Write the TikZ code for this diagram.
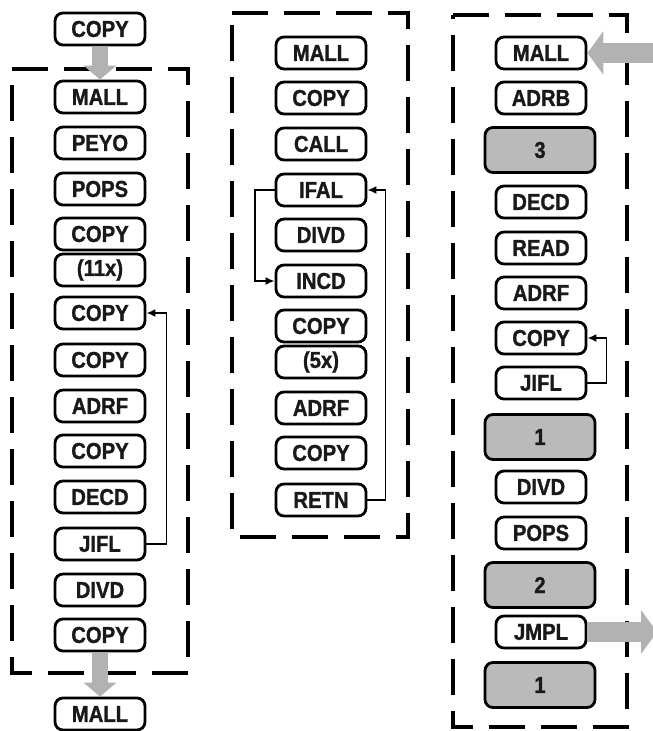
\documentclass[tikz,border=0pt]{standalone}
\usepackage{fontspec}
\setmainfont{Liberation Sans}
\newfontfamily\opfont[FakeStretch=0.88,FakeBold=1.2]{Liberation Sans Bold}
\usetikzlibrary{arrows.meta}
\begin{document}
\begin{tikzpicture}[x=1pt,y=-1pt,
  op/.style={draw=black, line width=2.8pt, rounded corners=8pt, minimum width=90pt, minimum height=32pt, inner sep=0pt, font=\opfont\fontsize{23}{26}\selectfont, fill=white, text=black!90},
  num/.style={op, minimum width=110pt, minimum height=45pt, fill=black!27},
  frame/.style={line width=4pt, dash pattern=on 36pt off 16pt, line cap=butt},
  fb/.style={line width=1.8pt, -{Latex[length=9pt,width=8pt]}},
  bigdown/.style={draw=black!30, line width=16pt, -{Triangle[width=32pt,length=14pt]}},
  bigside/.style={draw=black!30, line width=20pt, -{Triangle[width=43pt,length=16pt]}}
]
\useasboundingbox (0,0) rectangle (653,731);

% frames
\draw[frame] (12,69) -- (188,69) -- (188,673) -- (12,673) -- cycle;
\draw[frame] (232,13) -- (408,13) -- (408,537) -- (232,537) -- cycle;
\draw[frame] (453,15) -- (627,15) -- (627,727) -- (453,727) -- cycle;

% left column
\node[op] (L0) at (100,29) {COPY};
\node[op] (L1) at (100,97) {MALL};
\node[op] (L2) at (100,143) {PEYO};
\node[op] (L3) at (100,189) {POPS};
\node[op] (L4a) at (100,234) {COPY};
\node[op] (L4b) at (100,270) {(11x)};
\node[op] (L5) at (100,313) {COPY};
\node[op] (L6) at (100,360) {COPY};
\node[op] (L7) at (100,406) {ADRF};
\node[op] (L8) at (100,451) {COPY};
\node[op] (L9) at (100,497) {DECD};
\node[op] (L10) at (100,544) {JIFL};
\node[op] (L11) at (100,590) {DIVD};
\node[op] (L12) at (100,635) {COPY};
\node[op] (L13) at (100,714) {MALL};

% middle column
\node[op] (M1) at (321,53) {MALL};
\node[op] (M2) at (321,98) {COPY};
\node[op] (M3) at (321,144) {CALL};
\node[op] (M4) at (321,190) {IFAL};
\node[op] (M5) at (321,235) {DIVD};
\node[op] (M6) at (321,281) {INCD};
\node[op] (M7a) at (321,326) {COPY};
\node[op] (M7b) at (321,362) {(5x)};
\node[op] (M8) at (321,408) {ADRF};
\node[op] (M9) at (321,453) {COPY};
\node[op] (M10) at (321,500) {RETN};

% right column
\node[op] (R1) at (541,53) {MALL};
\node[op] (R2) at (541,98) {ADRB};
\node[num] (R3) at (540,150) {3};
\node[op] (R4) at (541,202) {DECD};
\node[op] (R5) at (541,248) {READ};
\node[op] (R6) at (541,293) {ADRF};
\node[op] (R7) at (541,338) {COPY};
\node[op] (R8) at (541,383) {JIFL};
\node[num] (R9) at (540,437) {1};
\node[op] (R10) at (541,487) {DIVD};
\node[op] (R11) at (541,533) {POPS};
\node[num] (R12) at (540,585) {2};
\node[op] (R13) at (541,632) {JMPL};
\node[num] (R14) at (540,685) {1};

% gray flow arrows
\coordinate (inR) at (660,53);
\coordinate (outR) at (657,632);
\draw[bigdown] (L0.south) -- (L1.north);
\draw[bigdown] (L12.south) -- (L13.north);
\draw[bigside] (inR) -- (R1.east);
\draw[bigside] (R13.east) -- (outR);

% feedback loops
\draw[fb] (L10.east) -- ++(20,0) |- (L5.east);
\draw[fb] (M4.west) -- ++(-20,0) |- (M6.west);
\draw[fb] (M10.east) -- ++(18,0) |- (M4.east);
\draw[fb] (R8.east) -- ++(19,0) |- (R7.east);
\end{tikzpicture}
\end{document}
